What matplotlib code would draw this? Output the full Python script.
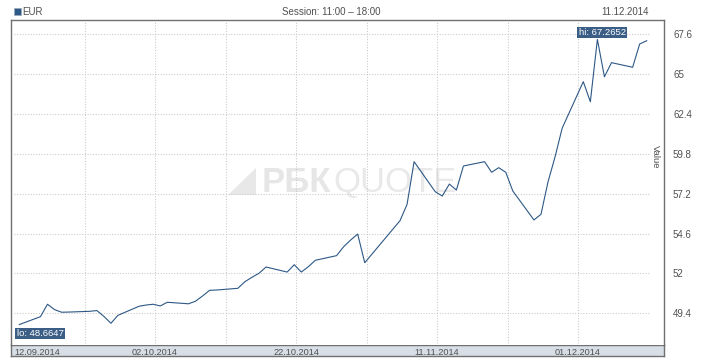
import matplotlib
matplotlib.use("Agg")
import matplotlib.pyplot as plt
import matplotlib.dates as mdates
import pandas as pd
from matplotlib.patches import Polygon

# ---------------- data ----------------
dates = ["12.09", "15.09", "16.09", "17.09", "18.09", "19.09", "22.09", "23.09", "24.09", "25.09",
         "26.09", "29.09", "30.09", "01.10", "02.10", "03.10", "06.10", "07.10", "08.10", "09.10",
         "10.10", "13.10", "14.10", "15.10", "16.10", "17.10", "20.10", "21.10", "22.10", "23.10",
         "24.10", "27.10", "28.10", "29.10", "30.10", "31.10", "05.11", "06.11", "07.11", "10.11",
         "11.11", "12.11", "13.11", "14.11", "17.11", "18.11", "19.11", "20.11", "21.11", "24.11",
         "25.11", "26.11", "27.11", "28.11", "01.12", "02.12", "03.12", "04.12", "05.12", "08.12",
         "09.12", "10.12"]
values = [48.6647, 49.18, 49.99, 49.64, 49.47, 49.48, 49.53, 49.58, 49.20, 48.75,
          49.27, 49.86, 49.94, 49.99, 49.88, 50.12, 50.02, 50.19, 50.53, 50.90,
          50.92, 51.03, 51.46, 51.75, 52.01, 52.42, 52.09, 52.57, 52.09, 52.44,
          52.86, 53.16, 53.74, 54.18, 54.57, 52.70, 55.44, 56.50, 59.29, 57.33,
          57.05, 57.83, 57.44, 59.01, 59.29, 58.60, 58.90, 58.60, 57.38, 55.49,
          55.86, 57.98, 59.61, 61.47, 64.51, 63.20, 67.2652, 64.83, 65.75, 65.45,
          66.97, 67.18]
year = "2014"
series_name = "EUR"
session_text = "Session: 11:00 \u2013 18:00"
today_text = "11.12.2014"
y_ticks = [49.4, 52, 54.6, 57.2, 59.8, 62.4, 65, 67.6]
x_label_dates = ["12.09.2014", "02.10.2014", "22.10.2014", "11.11.2014", "01.12.2014"]
x_grid_dates = ["22.09.2014", "02.10.2014", "12.10.2014", "22.10.2014", "01.11.2014",
                "11.11.2014", "21.11.2014", "01.12.2014"]

# ---------------- styles ----------------
W, H = 718, 360
LINE = "#2d5886"
BOX = "#3a5e86"
GRID = "#c8c8c8"
FRAME = "#707070"
TXT = "#505050"
BAND = "#d7dee6"
FONT = ["Liberation Sans", "DejaVu Sans"]
plt.rcParams["font.family"] = FONT

t = pd.to_datetime([d + "." + year for d in dates], format="%d.%m.%Y") + pd.Timedelta(hours=18)
xs = mdates.date2num(t.to_pydatetime())
x_lab = mdates.date2num(pd.to_datetime(x_label_dates, format="%d.%m.%Y").to_pydatetime())
x_grid = mdates.date2num(pd.to_datetime(x_grid_dates, format="%d.%m.%Y").to_pydatetime())
x0 = x_lab[0]

fig = plt.figure(figsize=(W / 100, H / 100), dpi=100)
fig.patch.set_facecolor("white")

L, R, T, B = 11, 664, 20, 345
ax = fig.add_axes([L / W, (H - B) / H, (R - L) / W, (B - T) / H])
band = fig.add_axes([L / W, (H - 356) / H, (R - L) / W, 11 / H])
ax.set_zorder(2)
band.set_zorder(1)

# scales
px_day = 7.05
xlim = (x0 + (L - 14) / px_day, x0 + (R - 14) / px_day)
px_val = 15.33
ylim = (49.4 - (B - 313.3) / px_val, 67.6 + (34.3 - T) / px_val)
ax.set_xlim(*xlim)
ax.set_ylim(*ylim)
band.set_xlim(*xlim)
band.set_xticks([]); band.set_yticks([])
band.set_facecolor(BAND)
for s in band.spines.values():
    s.set_color(FRAME); s.set_linewidth(1)

for s in ["left", "top", "right"]:
    ax.spines[s].set_color(FRAME); ax.spines[s].set_linewidth(1)
ax.spines["bottom"].set_visible(False)

# grid
x_end = x0 + (650 - 14) / px_day
ax.hlines(y_ticks, x0, x_end, colors=GRID, linestyles=(0, (1, 1.6)), linewidth=0.75, zorder=1)
ax.vlines(x_grid, (B - 343) / (B - T), (B - 22) / (B - T), colors=GRID,
          linestyles=(0, (1, 1.6)), linewidth=0.75, transform=ax.get_xaxis_transform(), zorder=1)

# watermark
ax.text(262 / W, (H - 182) / H, "РБК", transform=fig.transFigure, fontsize=25, fontweight="bold",
        color="#e6e6e6", ha="left", va="center", zorder=0)
ax.text(333 / W, (H - 182) / H, "QUOTE", transform=fig.transFigure, fontsize=25,
        color="#e9e9e9", ha="left", va="center", zorder=0)
tri = Polygon([[228 / W, (H - 195) / H], [256 / W, (H - 195) / H], [256 / W, (H - 168) / H]],
              closed=True, transform=fig.transFigure, facecolor="#e8e8e8", edgecolor="none", zorder=0)
ax.add_patch(tri)

# line
ax.plot(xs, values, color=LINE, linewidth=0.8, zorder=3)

# ticks
ax.yaxis.tick_right()
ax.set_yticks(y_ticks)
ax.set_yticklabels([f"{v:g}" for v in y_ticks])
ax.tick_params(axis="y", length=0, pad=6.5, labelsize=7, labelcolor=TXT)
ax.set_xticks(x_lab)
ax.set_xticklabels(x_label_dates)
ax.tick_params(axis="x", length=0, pad=2.0, labelsize=6.6, labelcolor=TXT)
ax.get_xticklabels()[0].set_horizontalalignment("left")

# Value label
fig.text(655 / W, (H - 157) / H, "Value", rotation=270, fontsize=6.8, color=TXT,
         ha="center", va="center")

# hi / lo labels
vals = list(values)
imax = vals.index(max(vals)); imin = vals.index(min(vals))
ax.annotate(f"hi: {vals[imax]:.4f}", xy=(xs[imax], vals[imax]), xytext=(5, 7),
            textcoords="offset pixels", ha="center", va="center", fontsize=6.8, color="white",
            bbox=dict(boxstyle="square,pad=0.15", fc=BOX, ec="none"), zorder=5)
ax.annotate(f"lo: {vals[imin]:.4f}", xy=(xs[imin], vals[imin]), xytext=(-2.5, -9),
            textcoords="offset pixels", ha="left", va="center", fontsize=6.8, color="white",
            bbox=dict(boxstyle="square,pad=0.15", fc=BOX, ec="none"), zorder=5)

# header
fig.patches.append(plt.Rectangle((14 / W, (H - 15) / H), 7 / W, 7 / H, transform=fig.transFigure,
                                 facecolor="#2f5a88", edgecolor="#9aa9bb", linewidth=0.5))
fig.text(22 / W, (H - 12) / H, series_name, fontsize=7, color=TXT, ha="left", va="center")
fig.text(331 / W, (H - 12) / H, session_text, fontsize=7, color=TXT, ha="center", va="center")
fig.text(649 / W, (H - 12) / H, today_text, fontsize=7, color=TXT, ha="right", va="center")

fig.savefig("out.png", dpi=100, facecolor="white")
